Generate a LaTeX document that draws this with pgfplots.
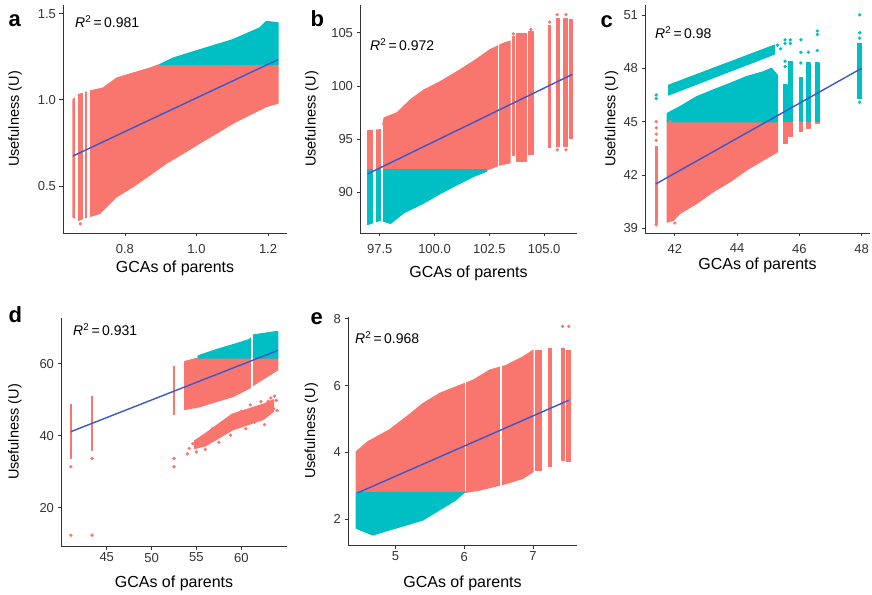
\documentclass[border=0pt]{standalone}
\usepackage{fontspec}
\setmainfont{Liberation Sans}
\usepackage{pgfplots}
\pgfplotsset{compat=1.18}
\definecolor{ggred}{HTML}{F8766D}
\definecolor{ggcyan}{HTML}{00BFC4}
\definecolor{fitblue}{RGB}{60,86,205}
\definecolor{axisgrey}{HTML}{333333}

\pgfplotsset{
  gg/.style={
    scale only axis, height=228pt,
    axis x line*=bottom, axis y line*=left,
    axis line style={axisgrey, line width=0.8pt, -},
    tick style={axisgrey, line width=0.8pt},
    tick align=outside, major tick length=3.5pt,
    ticklabel style={font=\fontsize{13}{15}\selectfont, text=black!80},
    xlabel style={font=\fontsize{16}{18}\selectfont},
    ylabel style={font=\fontsize{14.5}{17}\selectfont},
    xlabel={GCAs of parents}, ylabel={Usefulness (U)},
  },
  toprow/.style={xticklabel style={yshift=-4pt}},
  blob/.style={draw=#1, fill=#1, line width=1.2pt, line join=round},
  gap/.style={draw=white, line width=#1},
  dots/.style={only marks, mark=*, mark size=1.5pt, color=#1},
  fit/.style={fitblue, line width=1.4pt},
}
\newcommand{\rsq}[1]{\fontsize{14}{16}\selectfont\textit{R}\textsuperscript{2}\,=\,#1}
\newcommand{\plab}[1]{\fontsize{22}{24}\selectfont\bfseries #1}

\begin{document}
\begin{tikzpicture}
\path[use as bounding box] (0,0) rectangle (872pt,594pt);

% ---- a ----
\begin{axis}[gg, toprow, at={(63pt,361pt)}, width=224pt,
  xmin=0.627, xmax=1.253, ymin=0.227, ymax=1.55,
  xtick={0.8,1.0,1.2}, xticklabels={0.8,1.0,1.2},
  ytick={0.5,1.0,1.5}, yticklabels={0.5,1.0,1.5},
  xlabel style={at={(axis description cs:0.5,-0.154)}, anchor=center},
  ylabel style={at={(axis description cs:-0.214,0.5)}, anchor=center}]
\addplot[blob=ggred] coordinates {(0.655,0.32) (0.655,1.0) (0.67,1.03) (0.688,1.04) (0.70,1.05)
  (0.739,1.068) (0.777,1.126) (0.823,1.155) (0.87,1.184) (0.898,1.205) (1.228,1.205) (1.228,0.98)
  (1.195,0.961) (1.149,0.913) (1.102,0.864) (1.056,0.806) (1.009,0.748) (0.963,0.69) (0.916,0.632)
  (0.87,0.564) (0.823,0.496) (0.777,0.438) (0.73,0.34) (0.684,0.312) (0.67,0.30)} -- cycle;
\addplot[blob=ggcyan] coordinates {(0.898,1.205) (0.935,1.242) (1.009,1.29) (1.102,1.349)
  (1.177,1.417) (1.195,1.455) (1.228,1.446) (1.228,1.205)} -- cycle;
\addplot[dots=ggred] coordinates {(0.675,0.28)};
\addplot[gap=3pt] coordinates {(0.665,0.29) (0.665,1.06)};
\addplot[gap=1.5pt] coordinates {(0.686,0.29) (0.686,1.06)};
\addplot[gap=2.5pt] coordinates {(0.698,0.29) (0.698,1.07)};
\addplot[fit] coordinates {(0.655,0.674) (1.228,1.233)};
\end{axis}

% ---- b ----
\begin{axis}[gg, toprow, at={(360pt,361pt)}, width=217pt,
  xmin=96.6, xmax=106.5, ymin=86.2, ymax=107.6,
  xtick={97.5,100,102.5,105}, xticklabels={97.5,100.0,102.5,105.0},
  ytick={90,95,100,105}, yticklabels={90,95,100,105},
  xlabel style={at={(axis description cs:0.5,-0.175)}, anchor=center},
  ylabel style={at={(axis description cs:-0.222,0.5)}, anchor=center}]
\addplot[blob=ggred] coordinates {(96.95,92.13) (96.95,95.8) (97.6,95.9) (97.7,97.0) (98.3,97.5)
  (98.9,98.7) (99.5,99.6) (100.26,100.4) (101.0,101.3) (101.77,102.3) (102.53,103.4) (103.14,104.0)
  (103.45,104.2) (103.45,92.8) (103.0,92.6) (102.4,92.13)} -- cycle;
\addplot[blob=ggred] coordinates {(103.55,93.5) (103.55,104.6) (103.65,104.6) (103.65,93.5)} -- cycle;
\addplot[blob=ggred] coordinates {(103.75,92.9) (103.75,104.9) (104.2,104.9) (104.2,92.9)} -- cycle;
\addplot[blob=ggred] coordinates {(104.3,93.6) (104.3,105.1) (104.5,105.1) (104.5,93.6)} -- cycle;
\addplot[blob=ggred] coordinates {(105.2,94.2) (105.2,105.7) (105.3,105.7) (105.3,94.2)} -- cycle;
\addplot[blob=ggred] coordinates {(105.55,94.3) (105.55,106.3) (105.7,106.3) (105.7,94.3)} -- cycle;
\addplot[blob=ggred] coordinates {(105.9,94.3) (105.9,106.3) (106.05,106.3) (106.05,94.3)} -- cycle;
\addplot[blob=ggred] coordinates {(106.15,95.1) (106.15,106.2) (106.3,106.2) (106.3,95.1)} -- cycle;
\addplot[dots=ggred] coordinates {(105.25,106.0) (105.6,106.7) (106.0,106.7) (105.6,94.0)
  (106.0,94.0) (103.6,104.9) (104.4,105.3)};
\addplot[blob=ggcyan] coordinates {(96.95,92.13) (96.95,87.0) (97.53,87.4) (97.99,87.1) (98.6,88.1)
  (99.5,89.0) (100.26,89.9) (101.0,90.7) (101.77,91.5) (102.38,92.0) (102.38,92.13)} -- cycle;
\addplot[gap=3pt] coordinates {(97.27,86.7) (97.27,96.3)};
\addplot[gap=2pt] coordinates {(97.59,86.7) (97.59,96.3)};
\addplot[gap=1pt] coordinates {(102.9,92.4) (102.9,104.0)};
\addplot[fit] coordinates {(96.95,91.75) (106.3,101.1)};
\end{axis}

% ---- c ----
\begin{axis}[gg, toprow, at={(645pt,361pt)}, width=225pt,
  xmin=41.04, xmax=48.27, ymin=38.74, ymax=51.56,
  xtick={42,44,46,48}, xticklabels={42,44,46,48},
  ytick={39,42,45,48,51}, yticklabels={39,42,45,48,51},
  xlabel style={at={(axis description cs:0.5,-0.14)}, anchor=center},
  ylabel style={at={(axis description cs:-0.148,0.5)}, anchor=center}]
\addplot[blob=ggred] coordinates {(41.75,45) (45.3,45) (45.3,43.31) (44.84,42.84) (44.3,42.28)
  (43.77,41.62) (43.23,41.06) (42.7,40.4) (42.16,39.84) (41.95,39.45) (41.75,39.35)} -- cycle;
\addplot[blob=ggred] coordinates {(41.37,39.3) (41.37,43.6) (41.43,43.6) (41.43,39.3)} -- cycle;
\addplot[blob=ggred] coordinates {(45.48,43.78) (45.48,45) (45.6,45) (45.6,43.78)} -- cycle;
\addplot[blob=ggred] coordinates {(45.65,44.15) (45.65,45) (45.77,45) (45.77,44.15)} -- cycle;
\addplot[blob=ggred] coordinates {(46.0,44.43) (46.0,45) (46.1,45) (46.1,44.43)} -- cycle;
\addplot[blob=ggred] coordinates {(46.24,44.62) (46.24,45) (46.34,45) (46.34,44.62)} -- cycle;
\addplot[blob=ggred] coordinates {(46.53,44.9) (46.53,45) (46.63,45) (46.63,44.9)} -- cycle;
\addplot[dots=ggred] coordinates {(41.4,43.95) (41.4,44.3) (41.4,44.65) (41.4,45.0) (41.4,39.2)
  (42.0,39.3) (41.85,45.0)};
\addplot[blob=ggcyan] coordinates {(41.75,45) (41.75,45.46) (42.16,45.84) (42.7,46.4) (43.23,46.78)
  (43.77,47.15) (44.3,47.53) (44.84,47.8) (45.1,48.0) (45.3,47.6) (45.3,45)} -- cycle;
\addplot[blob=ggcyan] coordinates {(41.8,46.5) (45.2,48.8) (45.2,49.3) (41.8,47.05)} -- cycle;
\addplot[blob=ggcyan] coordinates {(45.48,45) (45.48,47.06) (45.6,47.06) (45.6,45)} -- cycle;
\addplot[blob=ggcyan] coordinates {(45.65,45) (45.65,48.4) (45.77,48.4) (45.77,45)} -- cycle;
\addplot[blob=ggcyan] coordinates {(46.0,45) (46.0,47.5) (46.1,47.5) (46.1,45)} -- cycle;
\addplot[blob=ggcyan] coordinates {(46.24,45) (46.24,48.3) (46.34,48.3) (46.34,45)} -- cycle;
\addplot[blob=ggcyan] coordinates {(46.53,45) (46.53,48.3) (46.63,48.3) (46.63,45)} -- cycle;
\addplot[blob=ggcyan] coordinates {(47.88,46.3) (47.88,49.4) (48.0,49.4) (48.0,46.3)} -- cycle;
\addplot[dots=ggcyan] coordinates {(41.4,46.3) (41.4,46.5) (45.54,48.1) (45.54,48.4) (45.54,49.4)
  (45.54,49.6) (45.71,49.4) (45.71,49.6) (46.05,48.3) (46.05,48.9) (46.05,49.6) (46.29,48.9)
  (46.58,49.0) (46.58,49.9) (46.58,50.1) (47.94,49.7) (47.94,50.0) (47.94,51.0) (47.94,46.1)
  (45.3,49.3) (45.4,49.1)};
\addplot[fit] coordinates {(41.38,41.49) (48.0,48.0)};
\end{axis}

% ---- d ----
\begin{axis}[gg, at={(61pt,48pt)}, width=226pt,
  xmin=39.9, xmax=65.1, ymin=9.4, ymax=72.7,
  xtick={45,50,55,60}, xticklabels={45,50,55,60},
  ytick={20,40,60}, yticklabels={20,40,60},
  xlabel style={at={(axis description cs:0.5,-0.162)}, anchor=center},
  ylabel style={at={(axis description cs:-0.204,0.5)}, anchor=center}]
\addplot[blob=ggred] coordinates {(40.95,33.7) (40.95,48.6) (41.07,48.6) (41.07,33.7)} -- cycle;
\addplot[blob=ggred] coordinates {(43.3,36.0) (43.3,50.9) (43.42,50.9) (43.42,36.0)} -- cycle;
\addplot[blob=ggred] coordinates {(52.45,45.8) (52.45,59.25) (52.57,59.25) (52.57,45.8)} -- cycle;
\addplot[dots=ggred] coordinates {(41.0,31.4) (41.0,12.4) (43.36,33.7) (43.36,12.4) (52.5,33.7) (52.5,31.4)};
\addplot[blob=ggred] coordinates {(53.7,47.3) (53.7,60.6) (55.2,61.6) (64.07,61.6) (64.07,58.3)
  (61.7,54.6) (60.9,53.2) (59.1,50.9) (57.2,49.5) (55.4,48.1)} -- cycle;
\addplot[blob=ggcyan] coordinates {(55.2,61.6) (55.2,62.2) (57.2,63.9) (59.1,65.3) (60.9,66.7)
  (61.4,68.0) (64.07,69.0) (64.07,61.6)} -- cycle;
\addplot[gap=2.5pt] coordinates {(61.2,52.0) (61.2,70.0)};
\addplot[blob=ggred] coordinates {(54.8,36.5) (56.0,37.2) (59.0,41.6) (62.5,44.6) (63.6,46.8)
  (63.6,50.0) (62.5,48.8) (59.0,46.0) (56.0,40.6) (54.8,38.6)} -- cycle;
\addplot[dots=ggred] coordinates {(54.0,35.0) (54.2,36.5) (54.6,37.8) (55.0,35.5) (55.2,38.8)
  (56.0,36.2) (56.8,42.0) (57.5,38.2) (58.3,44.5) (58.8,40.2) (60.0,46.8) (60.5,42.0) (61.5,43.8)
  (61.8,47.8) (62.6,43.1) (63.0,49.6) (63.3,50.5) (63.6,47.5) (63.9,49.8) (64.0,47.0) (63.7,51.0)
  (62.9,46.2) (63.4,48.6) (62.2,49.5) (61.0,48.6)};
\addplot[fit] coordinates {(41.0,41.14) (64.07,63.7)};
\end{axis}

% ---- e ----
\begin{axis}[gg, at={(348pt,49pt)}, width=229pt,
  xmin=4.31, xmax=7.64, ymin=1.23, ymax=8.05,
  xtick={5,6,7}, xticklabels={5,6,7},
  ytick={2,4,6,8}, yticklabels={2,4,6,8},
  xlabel style={at={(axis description cs:0.5,-0.167)}, anchor=center},
  ylabel style={at={(axis description cs:-0.16,0.5)}, anchor=center}]
\addplot[blob=ggred] coordinates {(4.43,2.8) (4.43,4.02) (4.6,4.32) (4.91,4.67) (5.16,5.06)
  (5.4,5.46) (5.64,5.76) (5.88,5.96) (6.13,6.16) (6.37,6.46) (6.61,6.6) (6.85,6.85) (7.0,7.05)
  (7.0,3.42) (6.85,3.22) (6.61,3.07) (6.22,2.87) (6.0,2.8)} -- cycle;
\addplot[blob=ggred] coordinates {(7.04,3.47) (7.04,7.05) (7.12,7.05) (7.12,3.47)} -- cycle;
\addplot[blob=ggred] coordinates {(7.22,3.57) (7.22,7.1) (7.27,7.1) (7.27,3.57)} -- cycle;
\addplot[blob=ggred] coordinates {(7.41,3.77) (7.41,7.1) (7.46,7.1) (7.46,3.77)} -- cycle;
\addplot[blob=ggred] coordinates {(7.49,3.72) (7.49,7.05) (7.54,7.05) (7.54,3.72)} -- cycle;
\addplot[dots=ggred] coordinates {(7.43,7.77) (7.52,7.77)};
\addplot[blob=ggcyan] coordinates {(4.43,2.8) (6.0,2.8) (5.96,2.73) (5.88,2.58) (5.64,2.28)
  (5.4,1.98) (5.16,1.83) (4.91,1.68) (4.67,1.53) (4.43,1.73)} -- cycle;
\addplot[gap=2pt] coordinates {(6.53,3.0) (6.53,6.65)};
\addplot[gap=1pt] coordinates {(6.02,2.85) (6.02,6.2)};
\addplot[fit] coordinates {(4.45,2.79) (7.52,5.56)};
\end{axis}

% panel letters and R^2 labels
\node[anchor=base west] at (5pt,567pt) {\plab{a}};
\node[anchor=base west] at (307pt,567pt) {\plab{b}};
\node[anchor=base west] at (597pt,566pt) {\plab{c}};
\node[anchor=base west] at (5pt,271pt) {\plab{d}};
\node[anchor=base west] at (307pt,269pt) {\plab{e}};
\node[anchor=west, inner sep=0pt] at (75pt,572pt) {\rsq{0.981}};
\node[anchor=west, inner sep=0pt] at (370pt,549pt) {\rsq{0.972}};
\node[anchor=west, inner sep=0pt] at (655pt,561pt) {\rsq{0.98}};
\node[anchor=west, inner sep=0pt] at (73pt,264pt) {\rsq{0.931}};
\node[anchor=west, inner sep=0pt] at (355pt,256pt) {\rsq{0.968}};
\end{tikzpicture}
\end{document}
